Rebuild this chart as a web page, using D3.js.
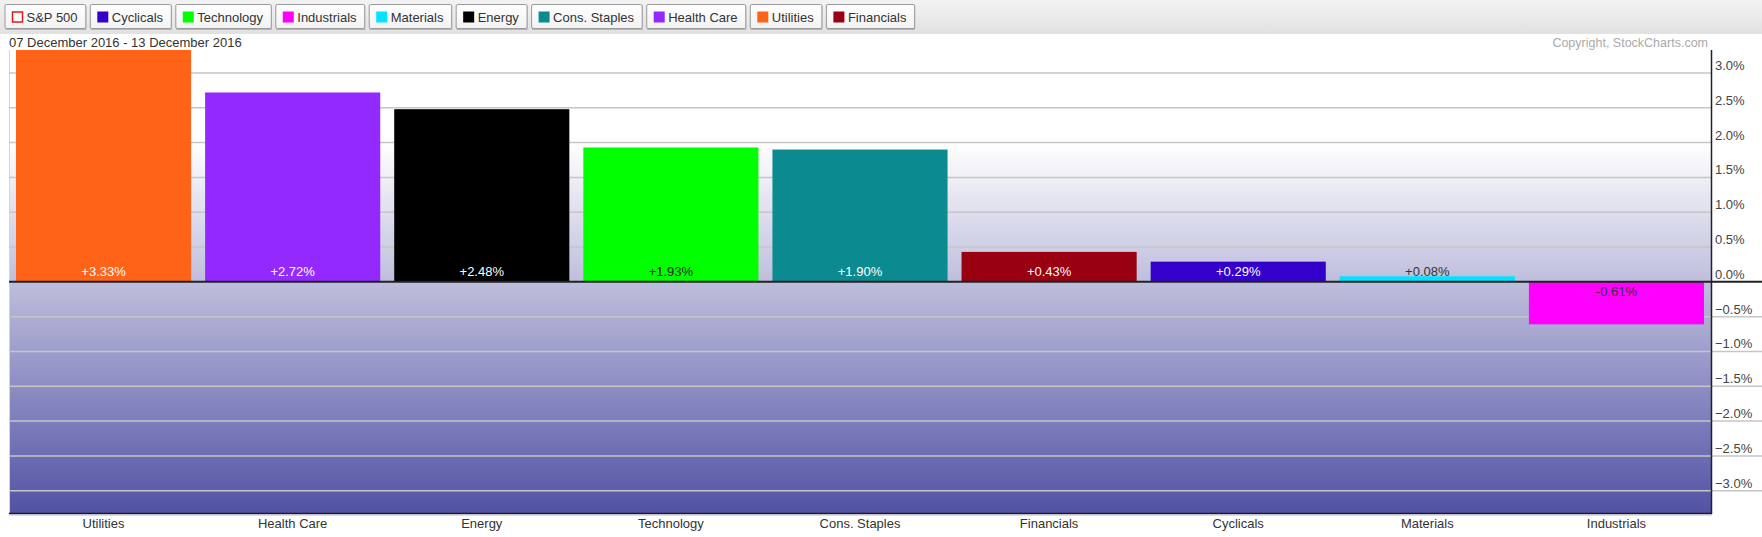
<!DOCTYPE html>
<html><head><meta charset="utf-8">
<script src="https://cdn.jsdelivr.net/npm/d3@7"></script>
<style>
html,body{margin:0;padding:0;background:#fff;}
svg{display:block;font-family:"Liberation Sans",Arial,sans-serif;}
</style></head>
<body><svg id="chart" width="1762" height="537"></svg>
<script>
const legendNames = ["S&P 500","Cyclicals","Technology","Industrials","Materials","Energy","Cons. Staples","Health Care","Utilities","Financials"];
const legendColors = ["#e31a1c","#3300cc","#00ff00","#ff00ff","#00e5ff","#000000","#0b8b90","#9329ff","#ff6318","#990011"];
const categories = ["Utilities","Health Care","Energy","Technology","Cons. Staples","Financials","Cyclicals","Materials","Industrials"];
const values = [3.33,2.72,2.48,1.93,1.90,0.43,0.29,0.08,-0.61];
const barColors = ["#ff6318","#9329ff","#000000","#00ff00","#0b8b90","#990011","#3300cc","#00e5ff","#ff00ff"];
const labelColors = ["#fff","#fff","#fff","#222","#fff","#fff","#fff","#333","#333"];
const tickValues = [3.0,2.5,2.0,1.5,1.0,0.5,0.0,-0.5,-1.0,-1.5,-2.0,-2.5,-3.0];
const dateText = "07 December 2016 - 13 December 2016";
const copyrightText = "Copyright, StockCharts.com";

(function(){
const svg = d3.select("#chart");
const W = 1762, H = 537;
const pLeft = 9, pRight = 1711, pTop = 50, pBottom = 513;

const defs = svg.append("defs");
const hg = defs.append("linearGradient").attr("id","hdr").attr("x1",0).attr("y1",0).attr("x2",0).attr("y2",1);
hg.append("stop").attr("offset","0%").attr("stop-color","#f3f3f3");
hg.append("stop").attr("offset","100%").attr("stop-color","#e1e1e1");
const bg = defs.append("linearGradient").attr("id","btn").attr("x1",0).attr("y1",0).attr("x2",0).attr("y2",1);
bg.append("stop").attr("offset","0%").attr("stop-color","#ffffff");
bg.append("stop").attr("offset","100%").attr("stop-color","#f2f2f2");

const x = d3.scaleBand().domain(categories).range([pLeft, pRight]).paddingInner(0.074).paddingOuter(0.037);
const y = d3.scaleLinear().domain([-3.32, 3.33]).range([pBottom, pTop]);

const pg = defs.append("linearGradient").attr("id","plotbg").attr("gradientUnits","userSpaceOnUse")
  .attr("x1",0).attr("x2",0).attr("y1",y(2.0)).attr("y2",pBottom);
pg.append("stop").attr("offset","0%").attr("stop-color","#ffffff");
pg.append("stop").attr("offset","100%").attr("stop-color","#5252a5");

svg.append("rect").attr("x",0).attr("y",0).attr("width",W).attr("height",34).attr("fill","url(#hdr)");

let lx = 4.5;
legendNames.forEach((name,i)=>{
  const g = svg.append("g");
  const t = g.append("text").attr("x",lx+22).attr("y",22).attr("font-size",13).attr("fill","#333").text(name);
  const tw = t.node().getComputedTextLength();
  const bw = tw + 29.7;
  g.insert("rect","text").attr("x",lx+1).attr("y",6).attr("width",bw).attr("height",24).attr("fill","#b5b5b5");
  g.insert("rect","text").attr("x",lx+0.5).attr("y",4.5).attr("width",bw).attr("height",24)
    .attr("fill","url(#btn)").attr("stroke","#9a9a9a").attr("rx",1.5);
  if(i===0){
    g.append("rect").attr("x",lx+8).attr("y",12).attr("width",10).attr("height",10)
      .attr("fill","#fff").attr("stroke",legendColors[i]).attr("stroke-width",1.5);
  } else {
    g.append("rect").attr("x",lx+7.5).attr("y",11.5).attr("width",11).attr("height",11).attr("fill",legendColors[i]);
  }
  lx += bw + 4.5;
});

svg.append("text").attr("x",9).attr("y",47).attr("font-size",13).attr("fill","#333").text(dateText);
svg.append("text").attr("x",1708).attr("y",47).attr("font-size",12.5).attr("fill","#aaa").attr("text-anchor","end").text(copyrightText);

svg.append("rect").attr("x",pLeft).attr("y",pTop).attr("width",pRight-pLeft).attr("height",pBottom-pTop).attr("fill","url(#plotbg)");
svg.append("line").attr("x1",pLeft+0.5).attr("x2",pLeft+0.5).attr("y1",pTop).attr("y2",pBottom).attr("stroke","#d4d4de").attr("stroke-width",1);

svg.append("g").selectAll("line").data(tickValues.filter(v=>v!==0)).join("line")
  .attr("x1",pLeft).attr("x2",d=> d<0 ? W : pRight)
  .attr("y1",d=>y(d)).attr("y2",d=>y(d))
  .attr("stroke","#c6c6c6").attr("stroke-width",1.5);

svg.append("g").selectAll("rect").data(values).join("rect")
  .attr("x",(d,i)=>x(categories[i]))
  .attr("width",x.bandwidth())
  .attr("y",d=>y(Math.max(0,d)))
  .attr("height",d=>Math.abs(y(d)-y(0)))
  .attr("fill",(d,i)=>barColors[i]);

svg.append("line").attr("x1",pLeft).attr("x2",W).attr("y1",y(0)).attr("y2",y(0)).attr("stroke","#222").attr("stroke-width",2);

svg.append("g").selectAll("text").data(values).join("text")
  .attr("x",(d,i)=>x(categories[i])+x.bandwidth()/2)
  .attr("y",d=> d>=0 ? y(0)-6 : y(0)+14)
  .attr("text-anchor","middle").attr("font-size",13)
  .attr("fill",(d,i)=>labelColors[i])
  .text(d=>(d>=0?"+":"")+d.toFixed(2)+"%");

svg.append("line").attr("x1",pRight+0.5).attr("x2",pRight+0.5).attr("y1",pTop).attr("y2",pBottom+1).attr("stroke","#222").attr("stroke-width",1.5);
svg.append("line").attr("x1",pLeft).attr("x2",pRight+1).attr("y1",pBottom+0.5).attr("y2",pBottom+0.5).attr("stroke","#1a1a2a").attr("stroke-width",1.5);
svg.append("line").attr("x1",pLeft).attr("x2",pRight+1).attr("y1",pBottom+2).attr("y2",pBottom+2).attr("stroke","#bbb").attr("stroke-width",1);

svg.append("g").selectAll("text").data(tickValues).join("text")
  .attr("x",pRight+4).attr("y",d=>y(d)-3)
  .attr("font-size",13).attr("fill","#444")
  .text(d=>d3.format(".1f")(d)+"%");

svg.append("g").selectAll("text").data(categories).join("text")
  .attr("x",d=>x(d)+x.bandwidth()/2).attr("y",528)
  .attr("text-anchor","middle").attr("font-size",13).attr("fill","#333")
  .text(d=>d);
})();
</script></body></html>
